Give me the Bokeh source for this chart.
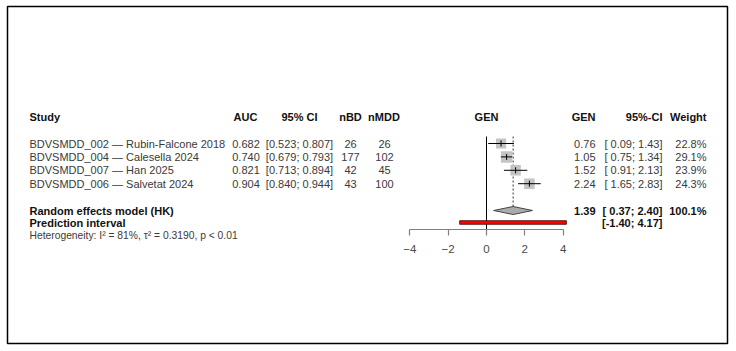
from math import sqrt

from bokeh.core.properties import value
from bokeh.embed import file_html
from bokeh.models import ColumnDataSource, FixedTicker, LinearAxis, Range1d
from bokeh.plotting import figure
from bokeh.resources import INLINE

# ---- study data -----------------------------------------------------------
studies = [
    "BDVSMDD_002 \u2014 Rubin-Falcone 2018",
    "BDVSMDD_004 \u2014 Calesella 2024",
    "BDVSMDD_007 \u2014 Han 2025",
    "BDVSMDD_006 \u2014 Salvetat 2024",
]
auc = ["0.682", "0.740", "0.821", "0.904"]
auc_ci = ["[0.523; 0.807]", "[0.679; 0.793]", "[0.713; 0.894]", "[0.840; 0.944]"]
n_bd = [26, 177, 42, 43]
n_mdd = [26, 102, 45, 100]
gen = [0.76, 1.05, 1.52, 2.24]
gen_lo = [0.09, 0.75, 0.91, 1.65]
gen_hi = [1.43, 1.34, 2.13, 2.83]
weight = [22.8, 29.1, 23.9, 24.3]

# pooled estimate (random effects, Hartung-Knapp) and prediction interval
re_est, re_lo, re_hi = 1.39, 0.37, 2.40
pi_lo, pi_hi = -1.40, 4.17
het_text = "Heterogeneity: I\u00b2 = 81%, \u03c4\u00b2 = 0.3190, p < 0.01"
axis_ticks = [-4, -2, 0, 2, 4]

# ---- layout ---------------------------------------------------------------
W, H = 736, 351
ZERO_PX, UNIT_PX = 486.0, 19.16        # where GEN = 0 sits, pixels per GEN unit
BOX_L, BOX_R, BOX_T, BOX_B = 7, 727, 6, 343


def gx(px):
    """Horizontal pixel position -> GEN data coordinate."""
    return (px - ZERO_PX) / UNIT_PX


HEADER_Y = 116
ROW0, ROW_STEP = 143.0, 13.4
RE_Y, PI_Y, HET_Y = 210, 222, 235
AXIS_Y = 229
LINE_TOP = 136

rows = [ROW0 + i * ROW_STEP for i in range(len(studies))]

FONT = value("Liberation Sans")
FS = "11px"
TXT = "#3a3a3a"
BOLD = "#111111"

p = figure(
    width=W, height=H,
    x_range=Range1d(gx(BOX_L), gx(BOX_R)),
    y_range=Range1d(BOX_B, BOX_T),
    min_border_left=BOX_L, min_border_right=W - BOX_R,
    min_border_top=BOX_T, min_border_bottom=H - BOX_B,
    x_axis_type=None, y_axis_type=None,
    output_backend="svg", toolbar_location=None,
)
p.outline_line_color = "black"
p.outline_line_width = 1.5
p.xgrid.visible = False
p.ygrid.visible = False


def put(xpx, y, texts, align, bold=False, color=None, size=FS):
    ys = y if isinstance(y, list) else [y] * len(texts)
    src = ColumnDataSource(dict(x=[gx(xpx)] * len(texts), y=ys, t=texts))
    p.text(x="x", y="y", text="t", source=src,
           text_font=FONT, text_font_size=size,
           text_font_style="bold" if bold else "normal",
           text_color=color or (BOLD if bold else TXT),
           text_align=align, text_baseline="middle")


# column headers
put(29, HEADER_Y, ["Study"], "left", bold=True)
put(245, HEADER_Y, ["AUC"], "center", bold=True)
put(299, HEADER_Y, ["95% CI"], "center", bold=True)
put(350, HEADER_Y, ["nBD"], "center", bold=True)
put(383.5, HEADER_Y, ["nMDD"], "center", bold=True)
put(ZERO_PX, HEADER_Y, ["GEN"], "center", bold=True)
put(595, HEADER_Y, ["GEN"], "right", bold=True)
put(662, HEADER_Y, ["95%-CI"], "right", bold=True)
put(706, HEADER_Y, ["Weight"], "right", bold=True)

# left-hand study columns
put(29, rows, studies, "left")
put(245.5, rows, auc, "center")
put(299, rows, auc_ci, "center")
put(350, rows, [str(v) for v in n_bd], "center")
put(384, rows, [str(v) for v in n_mdd], "center")

# right-hand effect columns
put(595, rows, [f"{v:.2f}" for v in gen], "right")
put(662, rows, [f"[{lo:5.2f}; {hi:4.2f}]" for lo, hi in zip(gen_lo, gen_hi)], "right")
put(706, rows, [f"{w:.1f}%" for w in weight], "right")

# summary rows
put(29, RE_Y, ["Random effects model (HK)"], "left", bold=True)
put(29, PI_Y, ["Prediction interval"], "left", bold=True)
put(29, HET_Y, [het_text], "left", size="10.3px")
put(595, RE_Y, [f"{re_est:.2f}"], "right", bold=True)
put(662, RE_Y, [f"[{re_lo:5.2f}; {re_hi:4.2f}]"], "right", bold=True)
put(706, RE_Y, [f"{sum(weight):.1f}%"], "right", bold=True)
put(662, PI_Y, [f"[{pi_lo:5.2f}; {pi_hi:4.2f}]"], "right", bold=True)

# reference lines: no effect (solid) and pooled estimate (dotted)
p.segment(x0=[0], y0=[LINE_TOP], x1=[0], y1=[AXIS_Y], line_color="black", line_width=1)
p.segment(x0=[re_est], y0=[LINE_TOP], x1=[re_est], y1=[RE_Y - 4],
          line_color="#333333", line_width=1, line_dash="2 2")

# study boxes sized by weight, with confidence intervals
wmax = max(weight)
box_sizes = [11.5 * sqrt(w / wmax) for w in weight]
study_src = ColumnDataSource(dict(
    g=gen, lo=gen_lo, hi=gen_hi, y=rows, s=box_sizes,
    yt=[r - 3 for r in rows], yb=[r + 3 for r in rows],
))
p.scatter(x="g", y="y", size="s", marker="square", source=study_src,
          fill_color="#c4c4c4", line_color=None)
p.segment(x0="lo", y0="y", x1="hi", y1="y", source=study_src,
          line_color="black", line_width=1)
p.segment(x0="g", y0="yt", x1="g", y1="yb", source=study_src,
          line_color="black", line_width=1)

# pooled diamond
p.patch(x=[re_lo, re_est, re_hi, re_est], y=[RE_Y, RE_Y - 4, RE_Y, RE_Y + 4],
        fill_color="#ababab", line_color="#444444", line_width=1)

# prediction interval bar
p.quad(left=[pi_lo], right=[pi_hi], top=[PI_Y - 1.8], bottom=[PI_Y + 1.8],
       fill_color="#ff0000", line_color="#400000", line_width=0.8)

# effect axis
ax = LinearAxis(
    fixed_location=AXIS_Y, bounds=(axis_ticks[0], axis_ticks[-1]),
    ticker=FixedTicker(ticks=axis_ticks),
    axis_line_color="#808080", axis_line_width=1.2,
    major_tick_line_color="#808080", major_tick_line_width=1.2,
    major_tick_out=6, major_tick_in=0,
    minor_tick_line_color=None,
    major_label_text_font="Liberation Sans",
    major_label_text_font_size="11.5px",
    major_label_text_color="#4a4a4a",
    major_label_standoff=9,
)
p.add_layout(ax, "below")

open("out.html", "w").write(file_html(p, INLINE))
